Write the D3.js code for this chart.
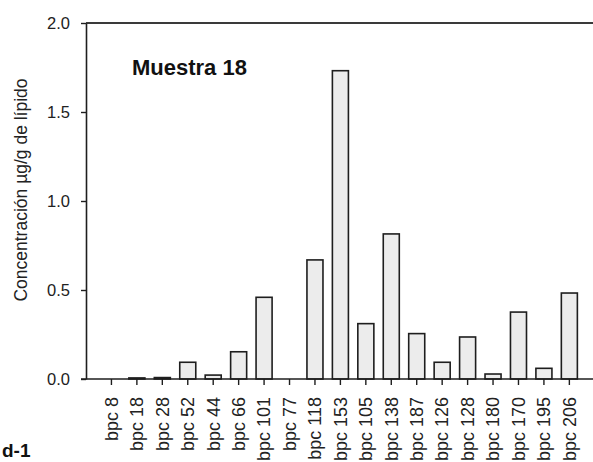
<!DOCTYPE html>
<html>
<head>
<meta charset="utf-8">
<script src="https://cdn.jsdelivr.net/npm/d3@7/dist/d3.min.js"></script>
<style>
  html, body { margin: 0; padding: 0; background: #fff; }
  svg { display: block; font-family: "Liberation Sans", Arial, Helvetica, sans-serif; }
</style>
</head>
<body>
<svg id="chart" width="593" height="462"></svg>
<script>
// PCB congeners (x categories) and concentration values, µg/g of lipid
const categories = ["bpc 8", "bpc 18", "bpc 28", "bpc 52", "bpc 44", "bpc 66", "bpc 101",
  "bpc 77", "bpc 118", "bpc 153", "bpc 105", "bpc 138", "bpc 187", "bpc 126",
  "bpc 128", "bpc 180", "bpc 170", "bpc 195", "bpc 206"];
const values = [0.0, 0.006, 0.008, 0.094, 0.022, 0.153, 0.459,
  0.0, 0.669, 1.732, 0.311, 0.815, 0.255, 0.094,
  0.236, 0.028, 0.376, 0.060, 0.483];
const yTicks = [0.0, 0.5, 1.0, 1.5, 2.0];
const sampleTitle = "Muestra 18";
const yAxisTitle = "Concentración µg/g de lípido";
const panelTag = "d-1";

const svg = d3.select("#chart");
const W = 593, H = 462;
const plotLeft = 86, plotTop = 23, plotBottom = 379;
const step = 25.44;

const x = d3.scaleBand()
  .domain(categories)
  .range([plotLeft + step * 0.5, plotLeft + step * 19.5])
  .paddingInner(0.37)
  .paddingOuter(0.185);

const y = d3.scaleLinear().domain([0, 2]).range([plotBottom, plotTop]);

const ink = "#1e1e1e";

// bars
svg.append("g")
  .selectAll("rect")
  .data(categories.map((c, i) => ({ c, v: values[i] })))
  .join("rect")
  .attr("x", d => x(d.c))
  .attr("y", d => y(d.v))
  .attr("width", x.bandwidth())
  .attr("height", d => y(0) - y(d.v))
  .attr("fill", "#ececec")
  .attr("stroke", ink)
  .attr("stroke-width", 1.6);

// top frame line at y = 2.0
svg.append("line")
  .attr("x1", plotLeft).attr("x2", W)
  .attr("y1", y(2)).attr("y2", y(2))
  .attr("stroke", "#3a3a3a").attr("stroke-width", 2);

// y axis
const yAxis = svg.append("g")
  .attr("transform", `translate(${plotLeft},0)`)
  .call(d3.axisLeft(y).tickValues(yTicks).tickFormat(d3.format(".1f"))
    .tickSize(5).tickSizeOuter(0).tickPadding(11));
yAxis.select(".domain").attr("stroke", ink).attr("stroke-width", 1.6);
yAxis.selectAll(".tick line").attr("stroke", ink).attr("stroke-width", 1.4);
yAxis.selectAll(".tick text")
  .attr("fill", "#222").attr("font-size", 16.5).attr("dy", "0.36em");

// x axis
const xAxis = svg.append("g")
  .attr("transform", `translate(0,${plotBottom})`)
  .call(d3.axisBottom(x).tickSize(6).tickSizeOuter(0).tickPadding(0));
xAxis.select(".domain").remove();
xAxis.selectAll(".tick line").attr("stroke", ink).attr("stroke-width", 1.4);
xAxis.selectAll(".tick text")
  .attr("fill", "#222")
  .attr("font-size", 18)
  .attr("text-anchor", "end")
  .attr("dy", "0.35em")
  .attr("transform", "translate(0,18) rotate(-90)")
  .attr("y", 0).attr("x", 0);

// baseline running to the right edge
svg.append("line")
  .attr("x1", plotLeft - 5).attr("x2", W)
  .attr("y1", y(0)).attr("y2", y(0))
  .attr("stroke", ink).attr("stroke-width", 1.6);

// sample title
svg.append("text")
  .attr("x", 132).attr("y", 75)
  .attr("font-size", 22).attr("font-weight", "bold").attr("fill", "#111")
  .text(sampleTitle);

// y axis title
svg.append("text")
  .attr("transform", "translate(21,190) rotate(-90)")
  .attr("text-anchor", "middle").attr("dy", "0.35em")
  .attr("font-size", 17.5).attr("fill", "#222")
  .text(yAxisTitle);

// panel tag
svg.append("text")
  .attr("x", 2).attr("y", 457)
  .attr("font-size", 19).attr("font-weight", "bold").attr("fill", "#111")
  .text(panelTag);
</script>
</body>
</html>
